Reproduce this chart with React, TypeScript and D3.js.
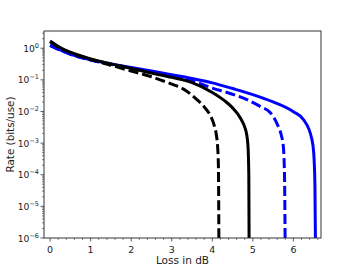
import React from 'react';
import * as d3 from 'd3';

// values (loss in dB, rate in bits/use)
const blackSolidLoss = [0, 0.25, 0.5, 1, 1.5, 2, 2.5, 3, 3.5, 4, 4.3, 4.5, 4.7, 4.8, 4.85, 4.88, 4.9, 4.91];
const blackSolidRate = [1.7, 1.05, 0.75, 0.46, 0.32, 0.23, 0.165, 0.12, 0.082, 0.04, 0.022, 0.013, 0.006, 0.0032, 0.0018, 0.0008, 0.0001, 1e-7];

const blackDashLoss = [0, 0.25, 0.5, 1, 1.5, 2, 2.5, 3, 3.3, 3.6, 3.8, 3.95, 4.05, 4.1, 4.13, 4.15, 4.165];
const blackDashRate = [1.6, 1.0, 0.72, 0.44, 0.29, 0.19, 0.125, 0.073, 0.05, 0.025, 0.014, 0.0075, 0.0035, 0.0018, 0.0008, 0.0002, 1e-7];

const blueSolidLoss = [0, 0.25, 0.5, 1, 1.5, 2, 2.5, 3, 3.5, 4, 4.5, 5, 5.5, 6, 6.25, 6.45, 6.5, 6.53, 6.55];
const blueSolidRate = [1.25, 0.88, 0.65, 0.43, 0.32, 0.245, 0.19, 0.145, 0.11, 0.08, 0.053, 0.034, 0.02, 0.0098, 0.0055, 0.0014, 0.0005, 0.00005, 1e-7];

const blueDashLoss = [0, 0.25, 0.5, 1, 1.5, 2, 2.5, 3, 3.5, 4, 4.5, 4.84, 5.2, 5.42, 5.6, 5.7, 5.75, 5.78, 5.8];
const blueDashRate = [1.2, 0.86, 0.64, 0.42, 0.31, 0.235, 0.175, 0.13, 0.092, 0.055, 0.035, 0.024, 0.014, 0.0095, 0.004, 0.0018, 0.0008, 0.0001, 1e-7];

const xTicks = [0, 1, 2, 3, 4, 5, 6];
const yExponents = [0, -1, -2, -3, -4, -5, -6];

const width = 357;
const height = 268;
const margin = { left: 44, right: 36, top: 31, bottom: 30 };

export default function App() {
  const x = d3.scaleLinear().domain([-0.15, 6.68]).range([margin.left, width - margin.right]);
  const y = d3.scaleLog().domain([1e-6, 3.5]).range([height - margin.bottom, margin.top]);

  const line = d3
    .line<[number, number]>()
    .x((d) => x(d[0]))
    .y((d) => y(d[1]))
    .curve(d3.curveMonotoneX);

  const series = [
    { loss: blueSolidLoss, rate: blueSolidRate, color: '#0000ff', dash: undefined },
    { loss: blueDashLoss, rate: blueDashRate, color: '#0000ff', dash: '10,4' },
    { loss: blackSolidLoss, rate: blackSolidRate, color: '#000000', dash: undefined },
    { loss: blackDashLoss, rate: blackDashRate, color: '#000000', dash: '10,4' },
  ];

  const [x0, x1] = x.range();
  const [y0, y1] = y.range();

  const minorX = d3.range(-0.2, 6.7, 0.2).filter((v) => v >= -0.15 && v <= 6.68 && Math.abs(v - Math.round(v)) > 0.01);
  const minorY: number[] = [];
  for (let e = -6; e <= 0; e++) {
    for (let m = 2; m <= 9; m++) {
      const v = m * Math.pow(10, e);
      if (v <= 3.5) minorY.push(v);
    }
  }

  const font = 'DejaVu Sans, sans-serif';

  return (
    <svg width={width} height={height} style={{ position: 'absolute', left: 0, top: 0 }} fontFamily={font}>
      <rect width={width} height={height} fill="#fff" />
      <defs>
        <clipPath id="plot">
          <rect x={x0} y={y1} width={x1 - x0} height={y0 - y1} />
        </clipPath>
      </defs>
      <g clipPath="url(#plot)">
        {series.map((s, i) => (
          <path
            key={i}
            d={line(s.loss.map((l, j) => [l, s.rate[j]] as [number, number])) || ''}
            fill="none"
            stroke={s.color}
            strokeWidth={3}
            strokeDasharray={s.dash}
          />
        ))}
      </g>
      <rect x={x0} y={y1} width={x1 - x0} height={y0 - y1} fill="none" stroke="#333" strokeWidth={1} />
      {xTicks.map((t) => (
        <g key={t}>
          <line x1={x(t)} x2={x(t)} y1={y0} y2={y0 + 3.5} stroke="#333" strokeWidth={0.8} />
          <text x={x(t)} y={y0 + 14.5} fontSize={9.5} textAnchor="middle" fill="#222">
            {t}
          </text>
        </g>
      ))}
      {minorX.map((t, i) => (
        <line key={i} x1={x(t)} x2={x(t)} y1={y0} y2={y0 + 2} stroke="#333" strokeWidth={0.6} />
      ))}
      {yExponents.map((e) => (
        <g key={e}>
          <line x1={x0 - 3.5} x2={x0} y1={y(Math.pow(10, e))} y2={y(Math.pow(10, e))} stroke="#333" strokeWidth={0.8} />
          <text x={x0 - 5} y={y(Math.pow(10, e)) + 3.5} fontSize={9.2} textAnchor="end" fill="#222">
            10
            <tspan dy={-4} fontSize={6.5}>
              {e === 0 ? '0' : '−' + Math.abs(e)}
            </tspan>
          </text>
        </g>
      ))}
      {minorY.map((v, i) => (
        <line key={i} x1={x0 - 2} x2={x0} y1={y(v)} y2={y(v)} stroke="#333" strokeWidth={0.6} />
      ))}
      <text x={(x0 + x1) / 2} y={height - 4} fontSize={10.5} textAnchor="middle" fill="#222">
        Loss in dB
      </text>
      <text
        transform={`translate(14, ${(y0 + y1) / 2}) rotate(-90)`}
        fontSize={10.4}
        textAnchor="middle"
        fill="#222"
      >
        Rate (bits/use)
      </text>
    </svg>
  );
}
